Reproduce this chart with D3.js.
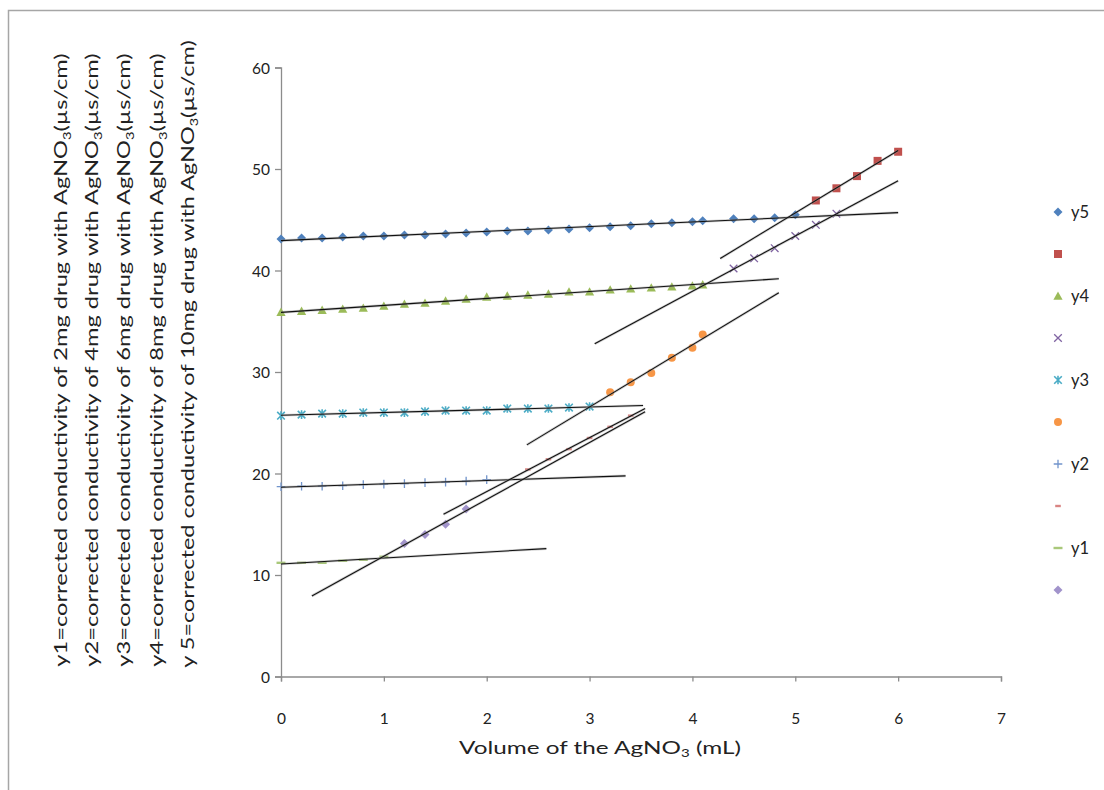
<!DOCTYPE html>
<html>
<head>
<meta charset="utf-8">
<script src="https://cdn.jsdelivr.net/npm/d3@7/dist/d3.min.js"></script>
<style>
  html, body { margin: 0; padding: 0; background: #fff; }
  svg { display: block; }
  text { font-family: Lato, "Open Sans", "Liberation Sans", sans-serif; fill: #222; }
</style>
</head>
<body>
<svg id="chart" width="1104" height="790"></svg>
<script>
// ---------------- data ----------------
const xTicks = [0, 1, 2, 3, 4, 5, 6, 7];
const yTicks = [0, 10, 20, 30, 40, 50, 60];

// y5 (10 mg) – before end point
const y5aX = [0,0.2,0.4,0.6,0.8,1.0,1.2,1.4,1.6,1.8,2.0,2.2,2.4,2.6,2.8,3.0,3.2,3.4,3.6,3.8,4.0,4.1,4.4,4.6,4.8,5.0];
const y5aY = [43.1,43.2,43.2,43.3,43.4,43.4,43.5,43.5,43.6,43.7,43.8,43.9,43.9,44.0,44.1,44.2,44.3,44.4,44.6,44.7,44.8,44.9,45.1,45.1,45.2,45.5];
// y5 – after end point
const y5bX = [5.2,5.4,5.6,5.8,6.0];
const y5bY = [46.9,48.1,49.3,50.8,51.7];

// y4 (8 mg)
const y4aX = [0,0.2,0.4,0.6,0.8,1.0,1.2,1.4,1.6,1.8,2.0,2.2,2.4,2.6,2.8,3.0,3.2,3.4,3.6,3.8,4.0,4.1];
const y4aY = [35.9,36.0,36.1,36.2,36.3,36.5,36.7,36.8,37.0,37.2,37.4,37.5,37.6,37.7,37.9,37.9,38.1,38.2,38.3,38.4,38.5,38.6];
const y4bX = [4.4,4.6,4.8,5.0,5.2,5.4];
const y4bY = [40.2,41.2,42.2,43.4,44.5,45.6];

// y3 (6 mg)
const y3aX = [0,0.2,0.4,0.6,0.8,1.0,1.2,1.4,1.6,1.8,2.0,2.2,2.4,2.6,2.8,3.0];
const y3aY = [25.7,25.8,25.9,25.9,26.0,26.0,26.0,26.1,26.2,26.2,26.2,26.4,26.4,26.4,26.5,26.6];
const y3bX = [3.2,3.4,3.6,3.8,4.0,4.1];
const y3bY = [28.0,29.0,29.9,31.4,32.4,33.7];

// y2 (4 mg)
const y2aX = [0,0.2,0.4,0.6,0.8,1.0,1.2,1.4,1.6,1.8,2.0];
const y2aY = [18.7,18.75,18.75,18.8,18.9,18.95,19.0,19.1,19.15,19.25,19.4];
const y2bX = [2.4,2.6,2.8,3.0,3.2,3.4];
const y2bY = [20.4,21.4,22.4,23.5,24.6,25.7];

// y1 (2 mg)
const y1aX = [0,0.2,0.4,0.6,0.8,1.0];
const y1aY = [11.2,11.2,11.2,11.4,11.5,11.8];
const y1bX = [1.2,1.4,1.6,1.8];
const y1bY = [13.1,14.0,15.0,16.5];

// trendline forecast ranges (x from, x to)
const trendFrom = [0, 4.27, 0, 3.05, 0, 2.39, 0, 1.58, 0, 0.30];
const trendTo   = [6.0, 6.0, 4.84, 6.0, 3.52, 4.84, 3.35, 3.54, 2.58, 3.54];

const legendNames = ["y5", "", "y4", "", "y3", "", "y2", "", "y1", ""];
const yTitles = [
  ["y1=corrected conductivity of 2mg drug with AgNO", "3", "(µs/cm)"],
  ["y2=corrected conductivity of 4mg drug with AgNO", "3", "(µs/cm)"],
  ["y3=corrected conductivity of 6mg drug with AgNO", "3", "(µs/cm)"],
  ["y4=corrected conductivity of 8mg drug with AgNO", "3", "(µs/cm)"],
  ["y 5=corrected conductivity of 10mg drug with AgNO", "3", "(µs/cm)"]
];
const xTitle = ["Volume of  the AgNO", "3", " (mL)"];

// ---------------- chart ----------------
const seriesX = [y5aX, y5bX, y4aX, y4bX, y3aX, y3bX, y2aX, y2bX, y1aX, y1bX];
const seriesY = [y5aY, y5bY, y4aY, y4bY, y3aY, y3bY, y2aY, y2bY, y1aY, y1bY];
const markerTypes = ["diamond","square","triangle","cross","asterisk","circle","plus","dash","longdash","diamond"];
const colors = ["#4F81BD","#C0504D","#9BBB59","#8064A2","#4BACC6","#F79646","#7194CC","#D98583","#A9C87A","#A193CB"];

const svg = d3.select("#chart");

// chart area border
svg.append("rect").attr("x", 8.5).attr("y", 10.5).attr("width", 1200).attr("height", 900)
  .attr("fill", "none").attr("stroke", "#A6A6A6").attr("stroke-width", 1.5);

const x = d3.scaleLinear().domain([0, 7]).range([281, 1001]);
const y = d3.scaleLinear().domain([0, 60]).range([676.5, 67.5]);

// axes
const xAxis = svg.append("g").attr("transform", `translate(0,${y(0)})`)
  .call(d3.axisBottom(x).tickValues(xTicks).tickSize(5).tickFormat(d3.format("d")));
const yAxis = svg.append("g").attr("transform", `translate(${x(0)},0)`)
  .call(d3.axisLeft(y).tickValues(yTicks).tickSize(6).tickFormat(d3.format("d")));
[xAxis, yAxis].forEach(g => {
  g.select(".domain").attr("stroke", "#8C8C8C").attr("stroke-width", 1.3);
  g.selectAll(".tick line").attr("stroke", "#8C8C8C").attr("stroke-width", 1.3);
  g.selectAll(".tick text").attr("font-size", 15.5).attr("fill", "#222")
    .style("font-family", "Lato, 'Open Sans', sans-serif");
});
xAxis.selectAll(".tick text").attr("y", 0).attr("dy", null).attr("transform", "translate(0,47)");
yAxis.selectAll(".tick text").attr("x", -11).attr("dy", "0.36em");

// markers
function markerPath(type, c, g) {
  const r = 3.8;
  switch (type) {
    case "diamond": g.append("path").attr("d", `M0,${-r-0.7}L${r+0.7},0L0,${r+0.7}L${-r-0.7},0Z`).attr("fill", c); break;
    case "square": g.append("rect").attr("x", -4).attr("y", -4).attr("width", 8).attr("height", 8).attr("fill", c); break;
    case "triangle": g.append("path").attr("d", `M0,${-r-0.8}L${r+0.8},${r}L${-r-0.8},${r}Z`).attr("fill", c); break;
    case "circle": g.append("circle").attr("r", r + 0.2).attr("fill", c); break;
    case "cross": g.append("path").attr("d", `M${-r},${-r}L${r},${r}M${-r},${r}L${r},${-r}`).attr("stroke", c).attr("stroke-width", 1.3).attr("fill", "none"); break;
    case "asterisk": g.append("path").attr("d", `M${-r},${-r}L${r},${r}M${-r},${r}L${r},${-r}M0,${-r-0.5}L0,${r+0.5}`).attr("stroke", c).attr("stroke-width", 1.6).attr("fill", "none"); break;
    case "plus": g.append("path").attr("d", `M${-r-0.5},0L${r+0.5},0M0,${-r-0.5}L0,${r+0.5}`).attr("stroke", c).attr("stroke-width", 1.3).attr("fill", "none"); break;
    case "dash": g.append("path").attr("d", `M-2.8,0L2.8,0`).attr("stroke", c).attr("stroke-width", 2.4).attr("fill", "none"); break;
    case "longdash": g.append("path").attr("d", `M-4.5,0L4.5,0`).attr("stroke", c).attr("stroke-width", 2.4).attr("fill", "none"); break;
  }
}

const plot = svg.append("g");
seriesX.forEach((xs, i) => {
  const pts = xs.map((v, k) => [v, seriesY[i][k]]);
  const gs = plot.append("g");
  gs.selectAll("g.pt").data(pts).enter().append("g")
    .attr("transform", d => `translate(${x(d[0])},${y(d[1])})`)
    .each(function() { markerPath(markerTypes[i], colors[i], d3.select(this)); });
});

// linear trendlines (least squares)
function regress(xs, ys) {
  const n = xs.length, mx = d3.mean(xs), my = d3.mean(ys);
  let sxy = 0, sxx = 0;
  for (let k = 0; k < n; k++) { sxy += (xs[k]-mx)*(ys[k]-my); sxx += (xs[k]-mx)*(xs[k]-mx); }
  const b = sxy / sxx;
  return { a: my - b*mx, b };
}
const tl = svg.append("g");
seriesX.forEach((xs, i) => {
  const { a, b } = regress(xs, seriesY[i]);
  const x0 = trendFrom[i], x1 = trendTo[i];
  tl.append("line").attr("x1", x(x0)).attr("y1", y(a + b*x0)).attr("x2", x(x1)).attr("y2", y(a + b*x1))
    .attr("stroke", "#9a9a9a").attr("stroke-width", 2.6).attr("stroke-opacity", 0.45);
  tl.append("line").attr("x1", x(x0)).attr("y1", y(a + b*x0)).attr("x2", x(x1)).attr("y2", y(a + b*x1))
    .attr("stroke", "#111").attr("stroke-width", 1.1);
});

// legend
const lg = svg.append("g");
legendNames.forEach((nm, i) => {
  const cy = 212 + i * 42;
  const g = lg.append("g").attr("transform", `translate(1058,${cy})`);
  markerPath(markerTypes[i], colors[i], g);
  if (nm) lg.append("text").attr("x", 1071).attr("y", cy).attr("dy", "0.36em")
    .attr("font-size", 16.5).text(nm);
});

// rotated y titles
function subText(sel, parts, fs) {
  sel.append("tspan").text(parts[0]);
  sel.append("tspan").attr("font-size", fs * 0.62).attr("dy", fs * 0.22).text(parts[1]);
  sel.append("tspan").attr("dy", -fs * 0.22).text(parts[2]);
}
const titleCX = [61, 92, 124, 157, 188];
const titleLen = [614, 614, 614, 614, 628];
yTitles.forEach((parts, i) => {
  const fs = 17.5;
  const t = svg.append("text").attr("font-size", fs).attr("text-anchor", "middle").attr("dy", "0.33em");
  subText(t, parts, fs);
  const len = t.node().getComputedTextLength();
  const s = titleLen[i] / len;
  t.attr("transform", `translate(${titleCX[i]},${360 - (i === 4 ? 6 : 0)}) rotate(-90) scale(${s},1)`);
});

// x title
{
  const fs = 17;
  const t = svg.append("text").attr("font-size", fs).attr("text-anchor", "middle").attr("dy", "0.33em");
  subText(t, xTitle, fs);
  const len = t.node().getComputedTextLength();
  const s = 282 / len;
  t.attr("transform", `translate(600,748) scale(${s},1)`);
}
</script>
</body>
</html>
